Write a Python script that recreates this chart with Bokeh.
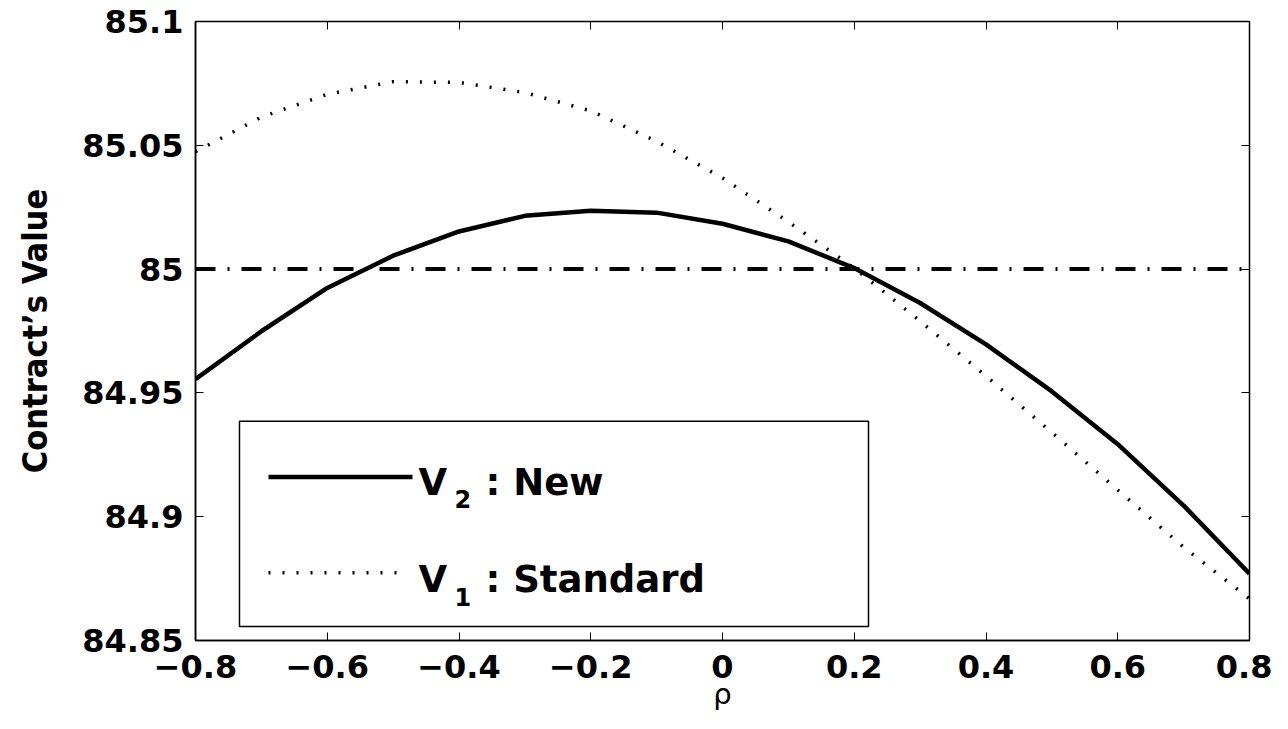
from bokeh.plotting import figure
from bokeh.models import (Range1d, LinearAxis, FixedTicker, CustomJSTickFormatter,
                          Span, BoxAnnotation, Label)
from bokeh.embed import file_html
from bokeh.resources import INLINE

# ---------------- data ----------------
rho = [-0.8, -0.7, -0.6, -0.5, -0.4, -0.3, -0.2, -0.1, 0.0,
       0.1, 0.2, 0.3, 0.4, 0.5, 0.6, 0.7, 0.8]
v2_new = [84.9555, 84.9749, 84.9924, 85.0054, 85.0152, 85.0215, 85.0236, 85.0228, 85.0183,
          85.0112, 85.0004, 84.9863, 84.9696, 84.9506, 84.9293, 84.9045, 84.8770]
v1_standard = [85.0474, 85.0614, 85.0706, 85.0757, 85.0754, 85.0713, 85.0639, 85.0516, 85.0368,
               85.0191, 85.0004, 84.9790, 84.9568, 84.9340, 84.9108, 84.8877, 84.8669]
ref_level = 85.0
x_ticks = [-0.8, -0.6, -0.4, -0.2, 0.0, 0.2, 0.4, 0.6, 0.8]
y_ticks = [84.85, 84.9, 84.95, 85.0, 85.05, 85.1]
x_label = "ρ"
y_label = "Contract’s Value"
legend_main = ["V", "V"]
legend_sub = ["2", "1"]
legend_rest = [": New", ": Standard"]

# ---------------- figure ----------------
X0, X1 = -0.8, 0.8
Y0, Y1 = 84.85, 85.1
p = figure(width=1272, height=713, x_range=Range1d(X0, X1), y_range=Range1d(Y0, Y1),
           output_backend="svg", toolbar_location=None,
           min_border_left=195, min_border_right=23, min_border_top=21, min_border_bottom=71)
p.background_fill_color = "white"
p.border_fill_color = "white"
p.outline_line_color = "black"
p.outline_line_width = 1.5
p.xgrid.visible = False
p.ygrid.visible = False

fmt = CustomJSTickFormatter(code="""
let s = tick.toFixed(2);
s = s.replace(/0+$/, '').replace(/\\.$/, '');
if (s === '-0') s = '0';
return s.replace('-', '\\u2212');
""")
blank = CustomJSTickFormatter(code="return '';")

TICK_FONT = "DejaVu Sans"
for ax in (p.xaxis[0], p.yaxis[0]):
    ax.formatter = fmt
    ax.major_label_text_font = TICK_FONT
    ax.major_label_text_font_style = "bold"
    ax.major_label_text_font_size = "32px"
    ax.major_label_text_color = "black"
    ax.major_tick_in = 8
    ax.major_tick_out = 0
    ax.minor_tick_line_color = None
    ax.axis_line_color = "black"
    ax.axis_line_width = 1.5
    ax.major_tick_line_color = "black"
    ax.major_tick_line_width = 1
p.xaxis[0].ticker = FixedTicker(ticks=x_ticks)
p.yaxis[0].ticker = FixedTicker(ticks=y_ticks)
p.xaxis[0].major_label_standoff = 14
p.yaxis[0].major_label_standoff = 12

p.xaxis[0].axis_label = x_label
p.xaxis[0].axis_label_text_font = "DejaVu Sans"
p.xaxis[0].axis_label_text_font_style = "normal"
p.xaxis[0].axis_label_text_font_size = "29px"
p.xaxis[0].axis_label_text_color = "black"
p.xaxis[0].axis_label_standoff = -4

p.yaxis[0].axis_label = y_label
p.yaxis[0].axis_label_text_font = "DejaVu Sans Condensed"
p.yaxis[0].axis_label_text_font_style = "bold"
p.yaxis[0].axis_label_text_font_size = "34px"
p.yaxis[0].axis_label_text_color = "black"
p.yaxis[0].axis_label_standoff = 24

# mirrored tick axes (top / right), ticks only
top = LinearAxis(ticker=FixedTicker(ticks=x_ticks), formatter=blank,
                 major_label_text_font_size="10px",
                 major_tick_in=8, major_tick_out=0, minor_tick_line_color=None,
                 axis_line_color=None, major_label_standoff=0)
right = LinearAxis(ticker=FixedTicker(ticks=y_ticks), formatter=blank,
                   major_label_text_font_size="10px",
                   major_tick_in=8, major_tick_out=0, minor_tick_line_color=None,
                   axis_line_color=None, major_label_standoff=0)
p.add_layout(top, "above")
p.add_layout(right, "right")

# ---------------- data marks ----------------
p.add_layout(Span(location=ref_level, dimension="width", line_color="black",
                  line_width=4, line_dash="20 12 2 12"))
p.line(rho, v1_standard, line_color="black", line_width=3.5, line_dash="2 12", line_cap="butt")
p.line(rho, v2_new, line_color="black", line_width=4.5, line_join="round")

# ---------------- legend (drawn manually to allow subscripts) ----------------
def dx(px):  # figure pixel -> data x
    return X0 + (px - 195) / 658.75

def dy(py):  # figure pixel -> data y
    return Y1 - (py - 21) / 2484.0

p.add_layout(BoxAnnotation(left=dx(239), right=dx(868), top=dy(422), bottom=dy(628),
                           fill_color="white", fill_alpha=1.0,
                           line_color="black", line_alpha=1.0, line_width=1.5, level="underlay"))
p.line([dx(268), dx(412)], [dy(478), dy(478)], line_color="black", line_width=4.5)
p.line([dx(268), dx(400)], [dy(574), dy(574)], line_color="black", line_width=3.5,
       line_dash="2 12", line_cap="butt")

base_y = [483, 581]
for i in range(2):
    p.add_layout(Label(x=dx(418), y=dy(base_y[i]), text=legend_main[i], text_font=TICK_FONT,
                       text_font_style="bold", text_font_size="37px", text_color="black",
                       text_baseline="alphabetic", text_align="left"))
    p.add_layout(Label(x=dx(454), y=dy(base_y[i] + 17), text=legend_sub[i], text_font=TICK_FONT,
                       text_font_style="bold", text_font_size="24px", text_color="black",
                       text_baseline="alphabetic", text_align="left"))
    p.add_layout(Label(x=dx(485), y=dy(base_y[i]), text=legend_rest[i], text_font=TICK_FONT,
                       text_font_style="bold", text_font_size="37px", text_color="black",
                       text_baseline="alphabetic", text_align="left"))

open("out.html", "w").write(file_html(p, INLINE))
